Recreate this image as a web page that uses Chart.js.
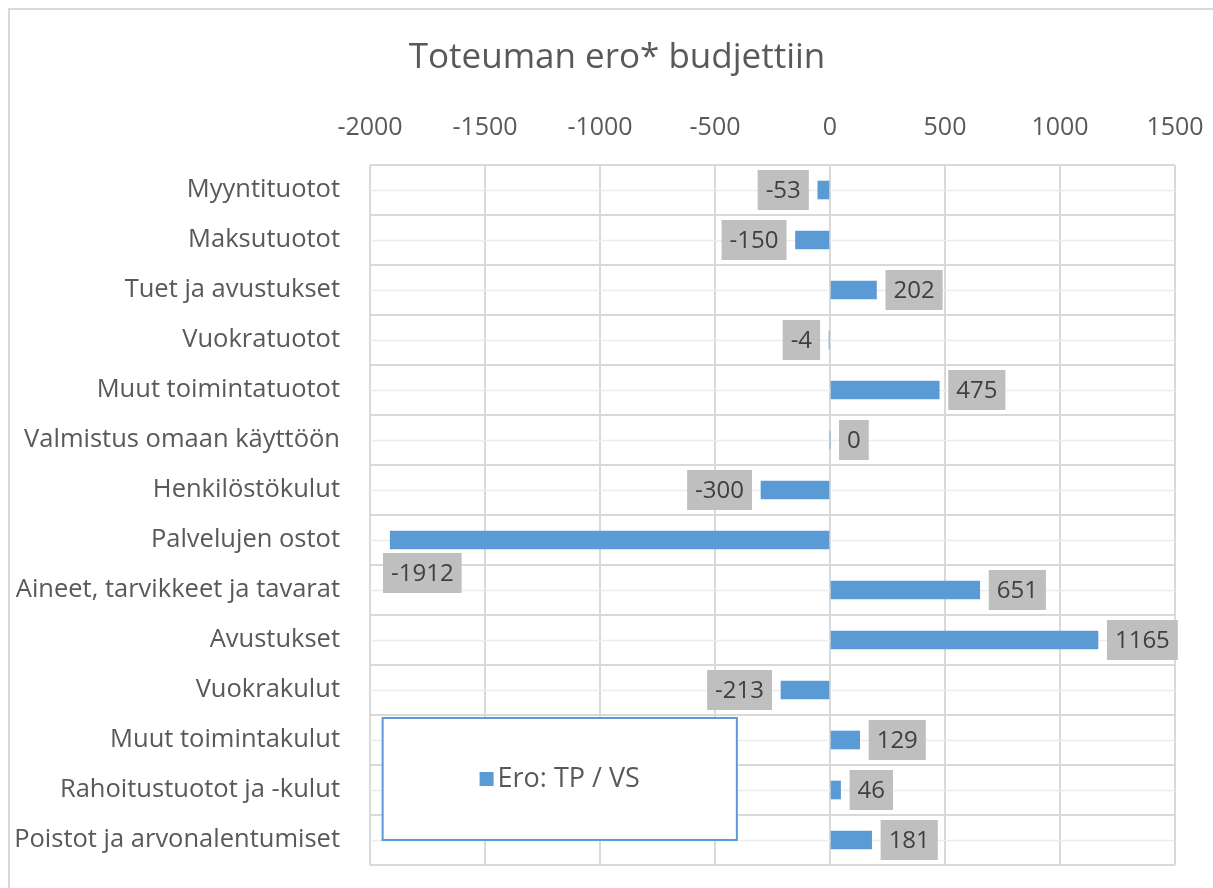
<!DOCTYPE html>
<html>
<head>
<meta charset="utf-8">
<script src="https://cdn.jsdelivr.net/npm/chart.js@4"></script>
<style>
  html, body { margin: 0; padding: 0; background: #fff; }
  #wrap { width: 1213px; height: 888px; position: relative; }
</style>
</head>
<body>
<div id="wrap"><canvas id="eroChart" width="1213" height="888"></canvas></div>
<script>
// categories and values
const categories = [
  "Myyntituotot",
  "Maksutuotot",
  "Tuet ja avustukset",
  "Vuokratuotot",
  "Muut toimintatuotot",
  "Valmistus omaan käyttöön",
  "Henkilöstökulut",
  "Palvelujen ostot",
  "Aineet, tarvikkeet ja tavarat",
  "Avustukset",
  "Vuokrakulut",
  "Muut toimintakulut",
  "Rahoitustuotot ja -kulut",
  "Poistot ja arvonalentumiset",
];
const eroValues = [-53, -150, 202, -4, 475, 0, -300, -1912, 651, 1165, -213, 129, 46, 181];
const seriesLabel = "Ero: TP / VS";
const chartTitle = "Toteuman ero* budjettiin";
const axisMin = -2000;
const axisMax = 1500;
const axisStep = 500;

const FONT = "'Open Sans', 'Noto Sans', sans-serif";
const BAR_BLUE = "#5b9bd5";
const TEXT_GREY = "#595959";

// light frame around the whole picture + the title
const framePlugin = {
  id: "frame",
  beforeDraw(chart) {
    const c = chart.ctx;
    c.save();
    c.fillStyle = "#fff";
    c.fillRect(0, 0, chart.width, chart.height);
    c.strokeStyle = "#d9d9d9";
    c.lineWidth = 2;
    c.beginPath();
    c.moveTo(9, chart.height);
    c.lineTo(9, 9);
    c.lineTo(chart.width, 9);
    c.stroke();
    // title
    c.font = "35px " + FONT;
    c.fillStyle = TEXT_GREY;
    c.textAlign = "center";
    c.textBaseline = "middle";
    c.fillText(chartTitle, 617, 58);
    c.restore();
  },
};

// lighter lines through the middle of each category row
const midLinesPlugin = {
  id: "midLines",
  beforeDatasetsDraw(chart) {
    const c = chart.ctx;
    const area = chart.chartArea;
    const y = chart.scales.y;
    c.save();
    c.strokeStyle = "#ececec";
    c.lineWidth = 1.5;
    categories.forEach((_, i) => {
      const py = Math.round(y.getPixelForValue(i)) + 0.5;
      c.beginPath();
      c.moveTo(area.left, py);
      c.lineTo(area.right, py);
      c.stroke();
    });
    c.restore();
  },
};

// grey boxed data labels outside the bar end
const boxLabelPlugin = {
  id: "boxLabels",
  afterDatasetsDraw(chart) {
    const c = chart.ctx;
    const area = chart.chartArea;
    const meta = chart.getDatasetMeta(0);
    c.save();
    c.font = "24px " + FONT;
    c.textBaseline = "middle";
    c.textAlign = "center";
    meta.data.forEach((bar, i) => {
      const v = eroValues[i];
      const txt = String(v);
      const w = c.measureText(txt).width + 16;
      const h = 40;
      let left = v >= 0 ? bar.x + 9 : bar.x - 9 - w;
      let top = bar.y - h / 2;
      if (left < area.left + 10) {
        left = area.left + 13;
        top = bar.y + 13;
      }
      c.fillStyle = "#bfbfbf";
      c.fillRect(left, top, w, h);
      c.fillStyle = "#404040";
      c.fillText(txt, left + w / 2, top + h / 2 + 1);
    });
    c.restore();
  },
};

// legend box sitting inside the plot area, bottom left
const legendBoxPlugin = {
  id: "legendBox",
  afterDraw(chart) {
    const c = chart.ctx;
    const x = chart.scales.x;
    const y = chart.scales.y;
    const left = x.getPixelForValue(-1945);
    const right = x.getPixelForValue(-405);
    const top = y.getPixelForValue(10.56);
    const bottom = y.getPixelForValue(13.0);
    c.save();
    c.fillStyle = "#fff";
    c.fillRect(left, top, right - left, bottom - top);
    c.strokeStyle = BAR_BLUE;
    c.lineWidth = 2;
    c.strokeRect(left, top, right - left, bottom - top);
    const label = chart.data.datasets[0].label;
    c.font = "27px " + FONT;
    const tw = c.measureText(label).width;
    const sq = 14;
    const total = sq + 4 + tw;
    const sx = (left + right) / 2 - total / 2;
    const cy = (top + bottom) / 2;
    c.fillStyle = BAR_BLUE;
    c.fillRect(sx, cy - sq / 2, sq, sq);
    c.fillStyle = TEXT_GREY;
    c.textBaseline = "middle";
    c.textAlign = "left";
    c.fillText(label, sx + sq + 4, cy);
    c.restore();
  },
};

const ctx = document.getElementById("eroChart").getContext("2d");
new Chart(ctx, {
  type: "bar",
  data: {
    labels: categories,
    datasets: [
      {
        label: seriesLabel,
        data: eroValues,
        backgroundColor: BAR_BLUE,
        borderWidth: 0,
        barThickness: 18,
      },
    ],
  },
  options: {
    indexAxis: "y",
    responsive: false,
    animation: false,
    layout: {
      padding: { left: 0, right: 38, top: 0, bottom: 23 },
    },
    plugins: {
      legend: { display: false },
      tooltip: { enabled: false },
      title: { display: false },
    },
    scales: {
      x: {
        position: "top",
        min: axisMin,
        max: axisMax,
        ticks: {
          stepSize: axisStep,
          color: TEXT_GREY,
          padding: 22,
          font: { family: FONT, size: 25 },
          callback: (value) => String(value),
        },
        grid: { color: "#d9d9d9", lineWidth: 2, drawTicks: false },
        border: { display: false },
        afterFit(scale) {
          scale.height = 165;
          scale.paddingLeft = 0;
          scale.paddingRight = 0;
        },
      },
      y: {
        ticks: {
          color: TEXT_GREY,
          padding: 30,
          font: { family: FONT, size: 25.5 },
        },
        grid: { color: "#d9d9d9", lineWidth: 2, offset: true, drawTicks: false },
        border: { display: false },
        afterFit(scale) {
          scale.width = 370;
          scale.paddingTop = 0;
          scale.paddingBottom = 0;
        },
      },
    },
  },
  plugins: [framePlugin, midLinesPlugin, boxLabelPlugin, legendBoxPlugin],
});
</script>
</body>
</html>
